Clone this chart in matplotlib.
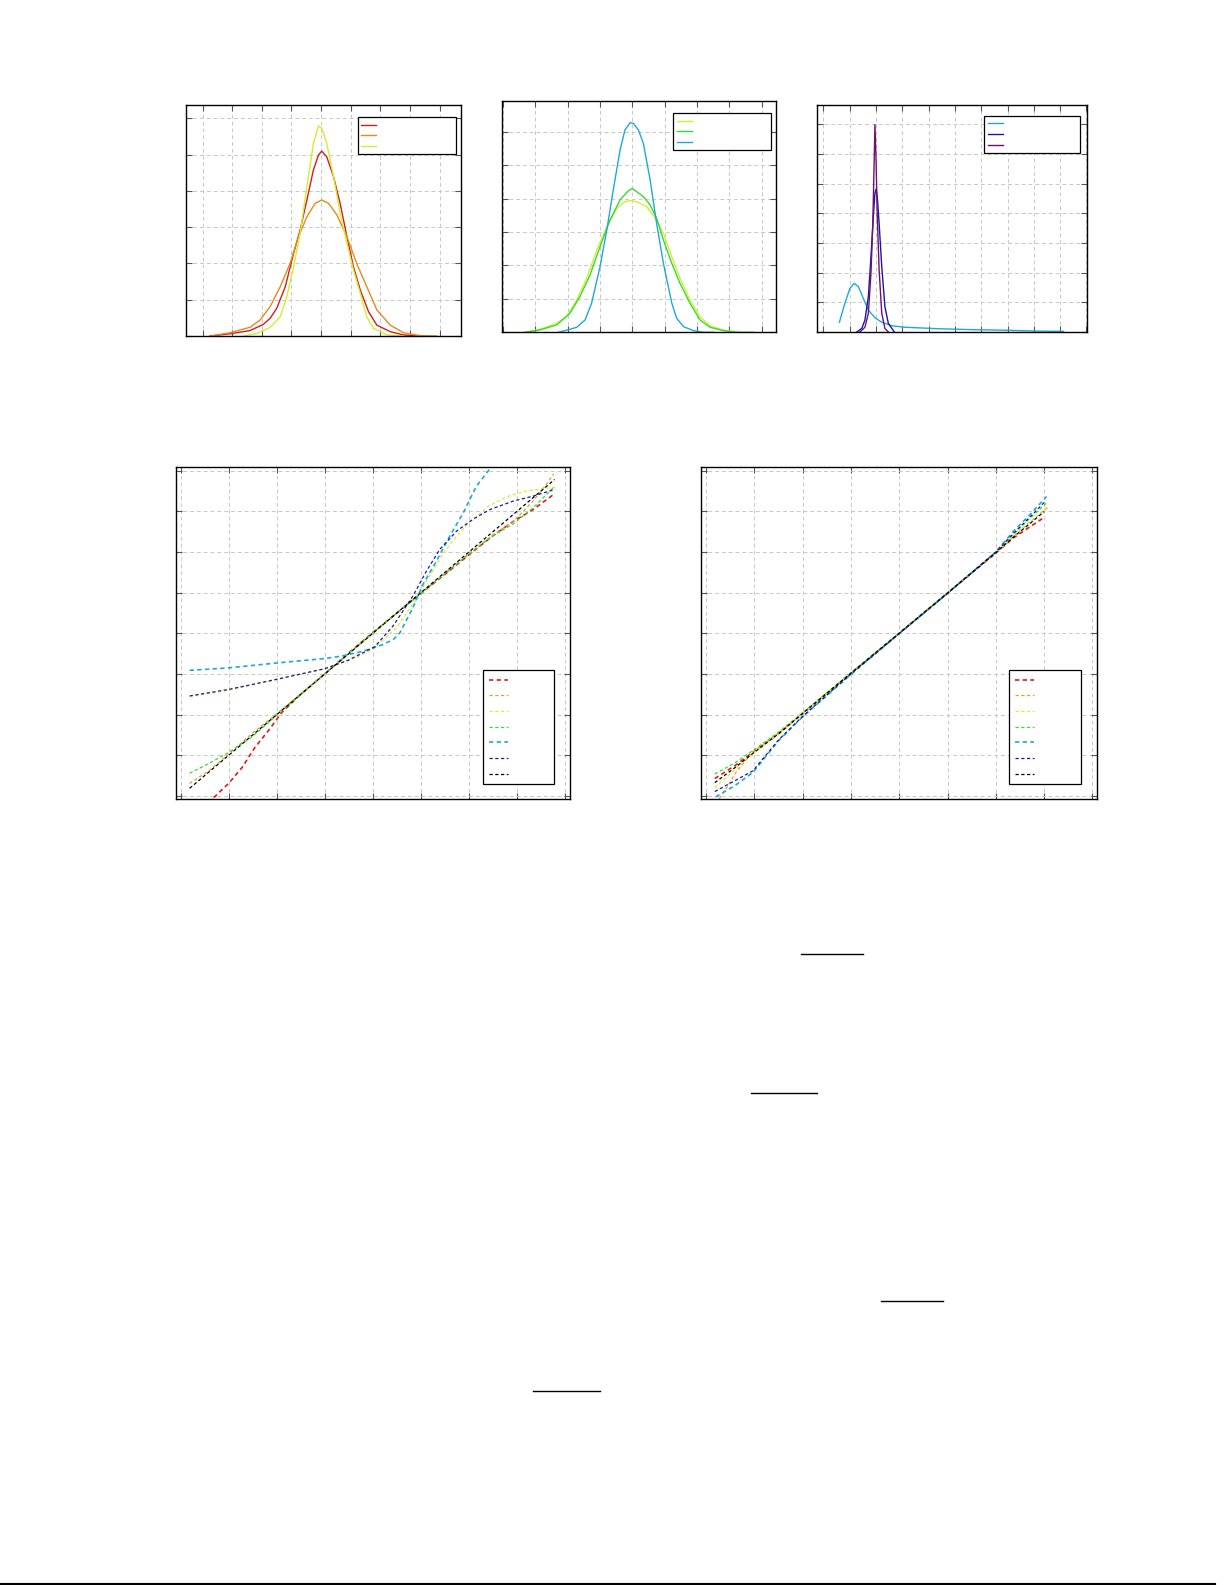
import matplotlib
matplotlib.use('Agg')
import matplotlib.pyplot as plt
from matplotlib.lines import Line2D

# ---- panel 1: densities (red / orange / yellow)
p1_red_x = [-3.75, -3.07, -2.40, -1.95, -1.72, -1.50, -1.21, -0.93, -0.71, -0.48, -0.26, -0.09, 0.02, 0.19, 0.42, 0.64, 0.87, 1.09, 1.32, 1.60, 1.88, 2.33, 2.78, 3.23]
p1_red_y = [0.0, 0.06, 0.15, 0.32, 0.49, 0.76, 1.36, 2.28, 2.92, 3.75, 4.58, 4.99, 5.10, 4.94, 4.39, 3.66, 2.74, 1.91, 1.27, 0.67, 0.30, 0.12, 0.03, 0.0]
p1_orange_x = [-3.75, -3.07, -2.40, -2.06, -1.72, -1.38, -1.05, -0.76, -0.48, -0.20, 0.02, 0.25, 0.53, 0.87, 1.20, 1.54, 1.88, 2.33, 2.78, 3.34, 3.90]
p1_orange_y = [0.0, 0.09, 0.24, 0.44, 0.81, 1.36, 2.00, 2.74, 3.29, 3.66, 3.75, 3.66, 3.34, 2.74, 2.00, 1.36, 0.72, 0.30, 0.09, 0.01, 0.0]
p1_yellow_x = [-2.62, -2.17, -1.72, -1.38, -1.16, -0.93, -0.71, -0.48, -0.26, -0.09, 0.02, 0.19, 0.42, 0.64, 0.87, 1.09, 1.32, 1.54, 1.77, 2.22, 2.78]
p1_yellow_y = [0.0, 0.07, 0.24, 0.53, 1.08, 1.91, 2.83, 4.12, 5.31, 5.79, 5.73, 5.31, 4.39, 3.38, 2.56, 1.82, 1.18, 0.53, 0.21, 0.03, 0.0]

# ---- panel 2: densities (yellow / green / cyan)
p2_yellow_x = [-3.32, -2.86, -2.34, -2.03, -1.72, -1.41, -1.10, -0.79, -0.48, -0.23, -0.07, 0.13, 0.44, 0.75, 0.96, 1.22, 1.47, 1.78, 2.09, 2.40, 2.81, 3.33]
p2_yellow_y = [0.0, 0.09, 0.27, 0.47, 0.97, 1.62, 2.46, 3.16, 3.71, 3.91, 3.94, 3.91, 3.76, 3.36, 2.96, 2.26, 1.62, 0.97, 0.47, 0.19, 0.07, 0.0]
p2_green_x = [-3.32, -2.86, -2.34, -1.93, -1.62, -1.31, -1.00, -0.69, -0.38, -0.12, 0.0, 0.13, 0.34, 0.55, 0.75, 0.96, 1.22, 1.47, 1.78, 2.09, 2.40, 2.81, 3.23, 3.74]
p2_green_y = [0.0, 0.07, 0.22, 0.57, 1.07, 1.71, 2.56, 3.36, 3.96, 4.24, 4.30, 4.21, 4.06, 3.81, 3.41, 2.76, 2.06, 1.47, 0.87, 0.37, 0.15, 0.05, 0.0, 0.0]
p2_cyan_x = [-2.29, -1.93, -1.72, -1.46, -1.26, -1.00, -0.79, -0.59, -0.38, -0.23, -0.07, 0.03, 0.19, 0.34, 0.55, 0.75, 0.96, 1.22, 1.37, 1.58, 1.89, 2.20, 2.51]
p2_cyan_y = [0.0, 0.09, 0.15, 0.37, 0.87, 1.96, 3.06, 4.26, 5.45, 6.05, 6.27, 6.25, 6.05, 5.65, 4.56, 3.26, 2.06, 0.87, 0.42, 0.17, 0.05, 0.0, 0.0]

# ---- panel 3: densities (cyan / navy / purple)
p3_cyan_x = [0.61, 0.82, 1.01, 1.17, 1.33, 1.52, 1.71, 1.96, 2.22, 2.60, 3.11, 4.37, 5.64, 6.91, 8.17, 9.13]
p3_cyan_y = [0.33, 0.97, 1.47, 1.64, 1.53, 1.13, 0.74, 0.48, 0.33, 0.21, 0.16, 0.11, 0.08, 0.06, 0.03, 0.02]
p3_navy_x = [1.27, 1.46, 1.58, 1.71, 1.81, 1.90, 1.96, 2.00, 2.05, 2.12, 2.22, 2.34, 2.47, 2.70]
p3_navy_y = [0.0, 0.12, 0.40, 1.19, 2.54, 3.89, 4.67, 4.81, 4.56, 3.66, 2.20, 0.85, 0.29, 0.0]
p3_purple_x = [1.39, 1.58, 1.71, 1.81, 1.88, 1.93, 1.96, 2.00, 2.05, 2.12, 2.22, 2.34, 2.47]
p3_purple_y = [0.0, 0.16, 0.63, 1.98, 3.66, 5.69, 6.99, 5.91, 3.89, 2.09, 0.63, 0.12, 0.0]

# ---- panel 4: quantile curves
p4_red_x = [-3.81, -3.31, -3.0, -2.72, -2.45, -2.17, -1.89, -1.5, -1.0, -0.5, 0.0, 0.5, 1.0, 1.5, 2.0, 2.5, 2.92, 3.33, 3.78]
p4_red_y = [-4.5, -4.04, -3.69, -3.30, -2.80, -2.39, -1.94, -1.50, -1.00, -0.48, 0.02, 0.50, 0.98, 1.45, 1.93, 2.40, 2.75, 3.04, 3.43]
p4_orange_x = [-3.81, -3.41, -3.0, -2.52, -2.0, -1.0, 0.0, 1.0, 2.0, 2.5, 2.92, 3.33, 3.61, 3.76]
p4_orange_y = [-3.69, -3.38, -2.97, -2.47, -1.98, -0.99, 0.01, 0.99, 1.96, 2.42, 2.75, 3.25, 3.66, 3.92]
p4_yellow_x = [-3.81, -3.0, -2.0, -1.0, -0.5, 0.0, 0.5, 0.85, 1.15, 1.45, 1.75, 2.02, 2.4, 2.79, 3.2, 3.79]
p4_yellow_y = [-1.56, -1.40, -1.14, -0.87, -0.67, -0.40, 0.15, 0.75, 1.35, 1.95, 2.40, 2.74, 3.12, 3.36, 3.50, 3.59]
p4_green_x = [-3.81, -3.41, -3.0, -2.52, -2.0, -1.0, 0.0, 1.0, 2.0, 2.5, 2.92, 3.33, 3.61, 3.78]
p4_green_y = [-3.44, -3.20, -2.93, -2.55, -2.02, -1.0, 0.01, 0.98, 1.95, 2.40, 2.69, 3.08, 3.41, 3.61]
p4_cyan_x = [-3.81, -3.0, -2.0, -1.0, -0.65, -0.23, 0.18, 0.42, 0.56, 0.83, 1.04, 1.32, 1.60, 1.88, 2.15, 2.47, 2.7]
p4_cyan_y = [-0.91, -0.85, -0.73, -0.62, -0.56, -0.45, -0.29, -0.16, 0.01, 0.62, 1.20, 1.77, 2.39, 2.96, 3.61, 4.10, 4.5]
p4_navy_x = [-3.81, -3.0, -2.0, -1.0, -0.51, 0.04, 0.42, 0.83, 1.11, 1.39, 1.74, 2.08, 2.43, 2.92, 3.33, 3.79]
p4_navy_y = [-1.54, -1.38, -1.13, -0.87, -0.66, -0.33, 0.18, 0.91, 1.52, 2.06, 2.51, 2.80, 3.04, 3.25, 3.37, 3.54]
p4_black_x = [-3.81, -3.0, -2.0, -1.0, 0.0, 1.0, 2.0, 3.0, 3.78]
p4_black_y = [-3.81, -3.0, -2.0, -1.0, 0.0, 1.0, 2.0, 3.0, 3.78]

# ---- panel 5: quantile curves after correction
p5_red_x = [-3.82, -3.4, -3.03, -2.5, -2.0, -1.0, 0.0, 1.0, 2.0, 2.36, 2.71, 2.98]
p5_red_y = [-3.57, -3.25, -2.92, -2.47, -1.97, -0.98, 0.0, 0.99, 1.97, 2.34, 2.62, 2.83]
p5_orange_x = [-3.73, -3.55, -3.4, -3.2, -3.03, -2.5, -2.0, -1.0, 0.0, 1.0, 2.0, 2.36, 2.71, 3.09]
p5_orange_y = [-4.06, -3.75, -3.45, -3.15, -2.92, -2.45, -1.97, -0.98, 0.0, 0.99, 1.98, 2.38, 2.74, 3.11]
p5_yellow_x = [-3.82, -3.4, -3.03, -2.5, -2.0, -1.0, 0.0, 1.0, 2.0, 2.36, 2.71, 3.07]
p5_yellow_y = [-3.79, -3.35, -2.96, -2.47, -1.97, -0.98, 0.01, 1.0, 1.98, 2.38, 2.74, 3.12]
p5_green_x = [-3.82, -3.4, -3.03, -2.5, -2.0, -1.0, 0.0, 1.0, 2.0, 2.36, 2.71, 3.07]
p5_green_y = [-3.46, -3.18, -2.88, -2.43, -1.95, -0.97, 0.01, 1.0, 1.99, 2.42, 2.83, 3.22]
p5_cyan_x = [-3.8, -3.4, -3.03, -2.5, -2.0, -1.0, 0.0, 1.0, 2.0, 2.36, 2.71, 3.05]
p5_cyan_y = [-4.02, -3.74, -3.42, -2.64, -2.05, -1.01, -0.01, 0.98, 2.0, 2.5, 2.92, 3.36]
p5_navy_x = [-3.82, -3.4, -3.03, -2.5, -2.0, -1.0, 0.0, 1.0, 2.0, 2.36, 2.71, 3.03]
p5_navy_y = [-3.89, -3.62, -3.38, -2.62, -2.04, -1.0, 0.0, 0.98, 2.0, 2.45, 2.86, 3.25]
p5_black_x = [-3.82, -3.4, -3.03, -2.5, -2.0, -1.0, 0.0, 1.0, 2.0, 2.36, 2.71, 3.0]
p5_black_y = [-3.67, -3.30, -2.95, -2.47, -1.97, -0.98, 0.0, 0.99, 1.98, 2.36, 2.70, 2.99]

RED = '#e01818'
ORANGE = '#e8891e'
GOLD = '#d9a03a'
YELLOW = '#d6ec32'
GREEN = '#34dc34'
CYAN = '#1fa8d8'
NAVY = '#1818a8'
PURPLE = '#701070'

W, H = 1225, 1585
fig = plt.figure(figsize=(W / 100, H / 100), dpi=100)


def frame(px_left, px_top, px_right, px_bottom):
    return [px_left / W, 1 - px_bottom / H, (px_right - px_left) / W, (px_bottom - px_top) / H]


def style(ax, xlim, ylim, xticks, yticks):
    ax.set_xlim(xlim)
    ax.set_ylim(ylim)
    ax.set_xticks(xticks)
    ax.set_yticks(yticks)
    ax.set_axisbelow(True)
    ax.grid(True, color='#c8c8c8', linestyle=(0, (4, 3)), linewidth=0.7)
    ax.tick_params(direction='in', length=4, width=0.8, color='#555555',
                   top=True, right=True, labelbottom=False, labelleft=False)
    for s in ax.spines.values():
        s.set_linewidth(1.0)
        s.set_color('black')


def legend(ax, handles, x0, top, w, **kw):
    leg = ax.legend(handles, [''] * len(handles), loc='upper left',
                    bbox_to_anchor=(x0, 0, w, top), mode='expand', borderaxespad=0,
                    fancybox=False, framealpha=1, edgecolor='black', **kw)
    leg.get_frame().set_linewidth(0.9)
    return leg


# panel 1
ax1 = fig.add_axes(frame(186, 105, 461, 336))
h1 = [ax1.plot(p1_red_x, p1_red_y, color='#cc2020', lw=1.0)[0],
      ax1.plot(p1_orange_x, p1_orange_y, color=ORANGE, lw=1.0)[0],
      ax1.plot(p1_yellow_x, p1_yellow_y, color=YELLOW, lw=1.0)[0]]
style(ax1, (-4.56, 4.72), (0, 6.37), range(-4, 5), range(0, 7))
legend(ax1, h1, 0.624, 0.947, 0.357, fontsize=6, handlelength=1.8, labelspacing=0.2, borderpad=0.4)

# panel 2
ax2 = fig.add_axes(frame(502.3, 101, 776, 332.3))
h2 = [ax2.plot(p2_yellow_x, p2_yellow_y, color=YELLOW, lw=1.0)[0],
      ax2.plot(p2_green_x, p2_green_y, color=GREEN, lw=1.0)[0],
      ax2.plot(p2_cyan_x, p2_cyan_y, color=CYAN, lw=1.0)[0]]
style(ax2, (-4.02, 4.44), (0, 6.92), range(-4, 5), range(0, 7))
legend(ax2, h2, 0.625, 0.947, 0.356, fontsize=6, handlelength=1.8, labelspacing=0.2, borderpad=0.4)

# panel 3
ax3 = fig.add_axes(frame(817.3, 105.3, 1086.7, 332))
h3 = [ax3.plot(p3_cyan_x, p3_cyan_y, color=CYAN, lw=1.0)[0],
      ax3.plot(p3_navy_x, p3_navy_y, color=NAVY, lw=1.0)[0],
      ax3.plot(p3_purple_x, p3_purple_y, color=PURPLE, lw=1.0)[0]]
style(ax3, (-0.23, 10.01), (0, 7.64), range(0, 11), range(0, 8))
legend(ax3, h3, 0.620, 0.953, 0.356, fontsize=6, handlelength=1.8, labelspacing=0.2, borderpad=0.4)

dash = (0, (2.6, 2.0))

# panel 4
ax4 = fig.add_axes(frame(175.7, 467.3, 570, 799.3))
h4 = [ax4.plot(p4_red_x, p4_red_y, color=RED, lw=1.2, ls=dash)[0],
      ax4.plot(p4_orange_x, p4_orange_y, color=GOLD, lw=0.9, ls=dash)[0],
      ax4.plot(p4_yellow_x, p4_yellow_y, color='#e2e835', lw=0.9, ls=dash)[0],
      ax4.plot(p4_green_x, p4_green_y, color=GREEN, lw=0.9, ls=dash)[0],
      ax4.plot(p4_cyan_x, p4_cyan_y, color=CYAN, lw=1.2, ls=dash)[0],
      ax4.plot(p4_navy_x, p4_navy_y, color=NAVY, lw=0.9, ls=dash)[0],
      ax4.plot(p4_black_x, p4_black_y, color='black', lw=0.9, ls=dash)[0]]
style(ax4, (-4.10, 4.10), (-4.08, 4.08), range(-4, 5), range(-4, 5))
legend(ax4, h4, 0.780, 0.389, 0.180, fontsize=6, handlelength=2.3, labelspacing=0.8, borderpad=0.65)

# panel 5
ax5 = fig.add_axes(frame(701.3, 467.3, 1096.7, 799.3))
h5 = [ax5.plot(p5_red_x, p5_red_y, color=RED, lw=1.2, ls=dash)[0],
      ax5.plot(p5_orange_x, p5_orange_y, color=GOLD, lw=0.9, ls=dash)[0],
      ax5.plot(p5_yellow_x, p5_yellow_y, color='#e2e835', lw=0.9, ls=dash)[0],
      ax5.plot(p5_green_x, p5_green_y, color=GREEN, lw=0.9, ls=dash)[0],
      ax5.plot(p5_cyan_x, p5_cyan_y, color=CYAN, lw=1.2, ls=dash)[0],
      ax5.plot(p5_navy_x, p5_navy_y, color=NAVY, lw=0.9, ls=dash)[0],
      ax5.plot(p5_black_x, p5_black_y, color='black', lw=0.9, ls=dash)[0]]
style(ax5, (-4.10, 4.09), (-4.08, 4.08), range(-4, 5), range(-4, 5))
legend(ax5, h5, 0.779, 0.389, 0.182, fontsize=6, handlelength=2.3, labelspacing=0.8, borderpad=0.65)

# page rules (fraction bars in the text body, footer rule)
for x0, x1, y, lw in [(801, 862.7, 954, 1.0), (751, 816.7, 1093.3, 1.0),
                      (881, 942.7, 1301, 1.0), (532.7, 600, 1391, 1.0),
                      (0, 1215, 1583.5, 1.5)]:
    fig.add_artist(Line2D([x0 / W, x1 / W], [1 - y / H, 1 - y / H],
                          transform=fig.transFigure, color='black', lw=lw))

fig.savefig('out.png', dpi=100)
